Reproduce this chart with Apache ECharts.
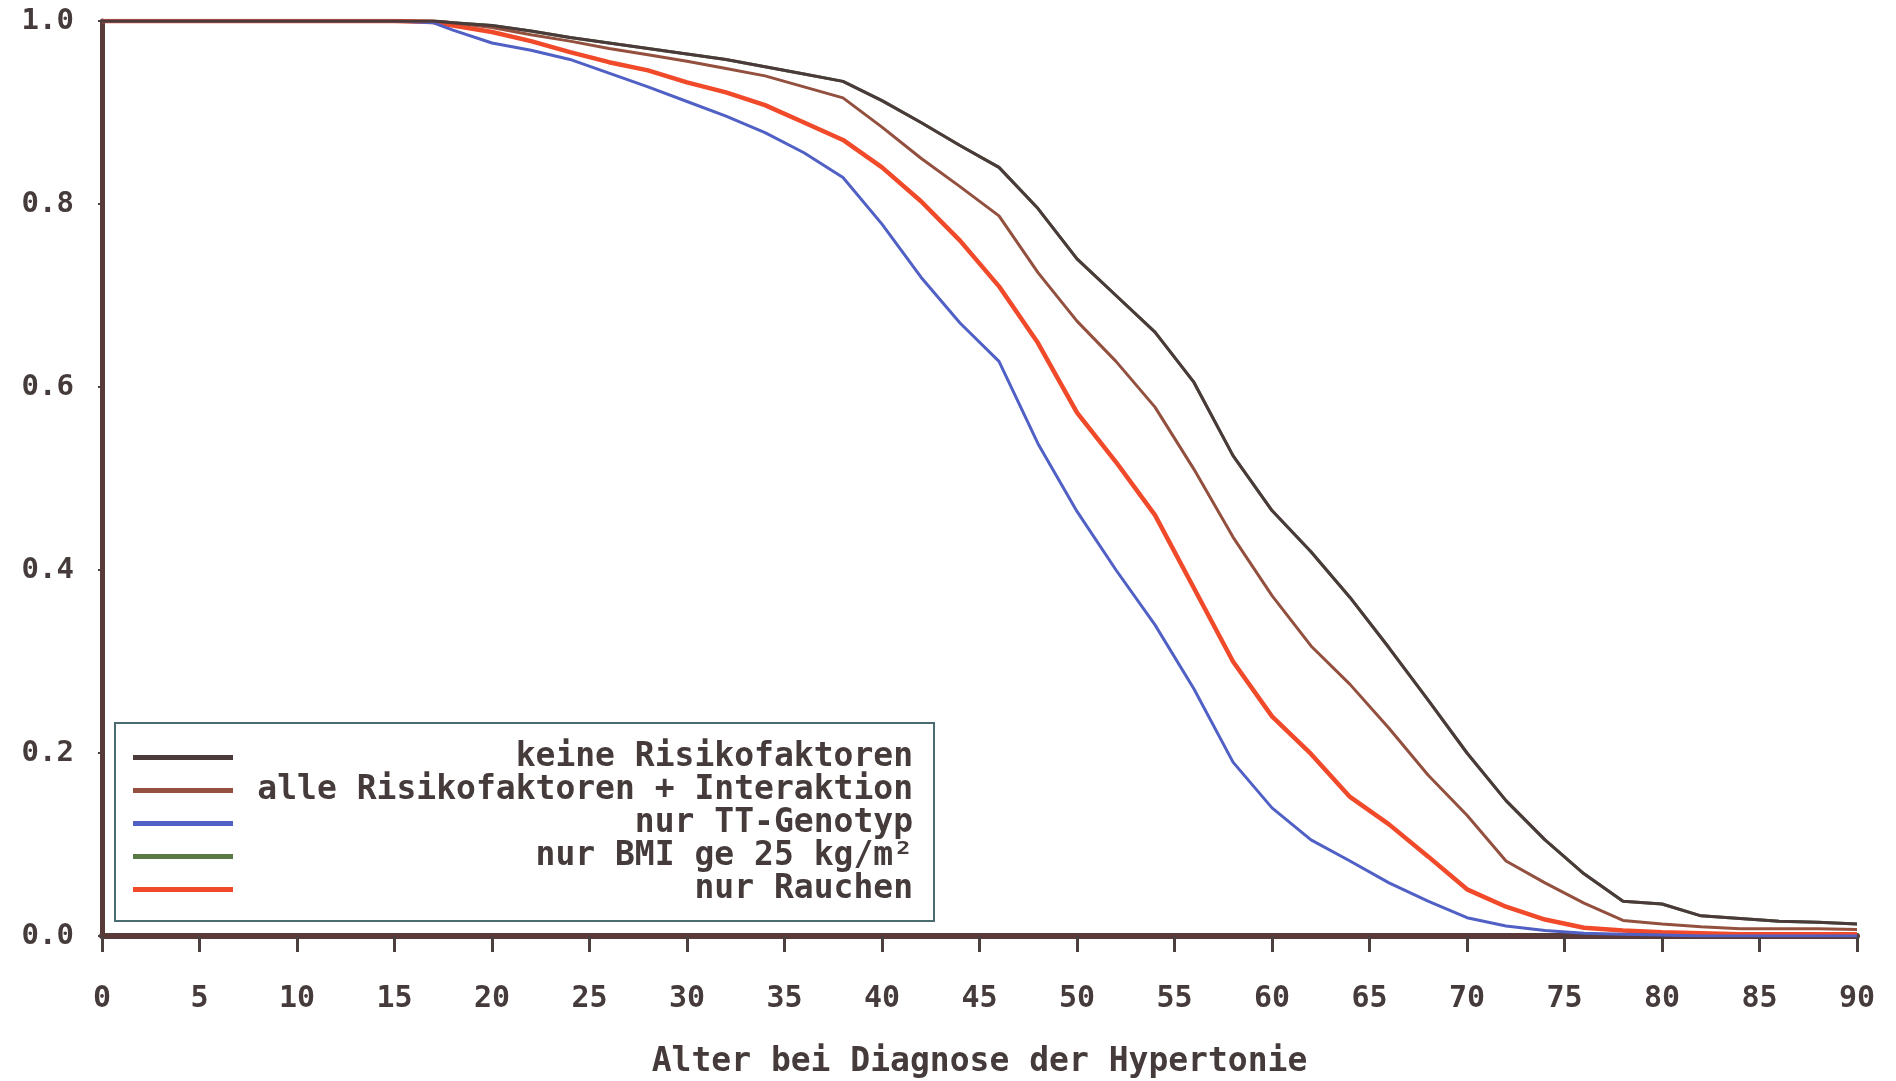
<!DOCTYPE html>
<html>
<head>
<meta charset="utf-8">
<script src="https://cdn.jsdelivr.net/npm/echarts@6.0.0/dist/echarts.min.js"></script>
<style>
  html, body { margin: 0; padding: 0; background: #fff; }
  .chart-content { width: 1896px; height: 1081px; }
</style>
</head>
<body>
<div class="chart-content" id="chart"></div>
<script>
// Alter (Jahre)
var ages = [0, 15, 17, 18, 20, 22, 24, 26, 28, 30, 32, 34, 36, 38, 40, 42, 44, 46, 48, 50,
  52, 54, 56, 58, 60, 62, 64, 66, 68, 70, 72, 74, 76, 78, 80, 82, 84, 86, 88, 90]

var keineVals = [1, 1, 1, 0.998, 0.995, 0.989, 0.982, 0.976, 0.970, 0.964,
  0.958, 0.950, 0.942, 0.934, 0.913, 0.889, 0.864, 0.840, 0.795, 0.740,
  0.700, 0.660, 0.605, 0.525, 0.465, 0.420, 0.370, 0.315, 0.258, 0.200,
  0.148, 0.105, 0.068, 0.038, 0.035, 0.022, 0.019, 0.016, 0.015, 0.013]

var alleVals = [1, 1, 1, 0.998, 0.993, 0.985, 0.978, 0.970, 0.963, 0.956,
  0.948, 0.940, 0.928, 0.916, 0.884, 0.850, 0.819, 0.787, 0.725, 0.672,
  0.628, 0.578, 0.510, 0.436, 0.372, 0.317, 0.275, 0.227, 0.176, 0.132,
  0.082, 0.058, 0.036, 0.017, 0.013, 0.010, 0.008, 0.008, 0.008, 0.007]

var ttVals = [1, 1, 0.998, 0.990, 0.976, 0.968, 0.958, 0.943, 0.928, 0.912,
  0.896, 0.878, 0.856, 0.829, 0.778, 0.720, 0.670, 0.628, 0.538, 0.464,
  0.400, 0.340, 0.270, 0.190, 0.140, 0.105, 0.082, 0.058, 0.038, 0.020,
  0.011, 0.006, 0.003, 0.002, 0.001, 0, 0, 0, 0, 0]

// BMI-Kurve liegt unter "keine Risikofaktoren"
var bmiVals = keineVals

var rauchenVals = [1, 1, 0.999, 0.995, 0.988, 0.978, 0.966, 0.955, 0.946, 0.933,
  0.922, 0.908, 0.889, 0.870, 0.840, 0.803, 0.760, 0.710, 0.648, 0.572,
  0.518, 0.460, 0.380, 0.300, 0.240, 0.199, 0.152, 0.122, 0.087, 0.051,
  0.032, 0.018, 0.009, 0.006, 0.004, 0.003, 0.002, 0.002, 0.002, 0.002]

var seriesNames = ['keine Risikofaktoren', 'alle Risikofaktoren + Interaktion',
  'nur TT-Genotyp', 'nur BMI ge 25 kg/m²', 'nur Rauchen']

var font = 'DejaVu Sans Mono'
var textColor = '#453b3b'

function pairs (vals) {
  return ages.map(function (a, i) { return [a, vals[i]] })
}

function lineSeries (name, vals, color, width, z) {
  return {
    name: name,
    type: 'line',
    data: pairs(vals),
    showSymbol: false,
    symbol: 'none',
    color: color,
    z: z,
    lineStyle: { color: color, width: width },
    itemStyle: { color: color },
    emphasis: { disabled: true }
  }
}

var myChart = echarts.init(document.getElementById('chart'))

var chartOption = {
  animation: false,
  backgroundColor: '#fff',
  grid: { left: 102, right: 39, top: 21, bottom: 145, outerBoundsMode: 'none' },
  legend: {
    orient: 'vertical',
    left: 115,
    top: 723,
    padding: [18, 21, 15, 18],
    itemGap: 0,
    itemWidth: 100,
    itemHeight: 5,
    icon: 'rect',
    selectedMode: false,
    borderColor: '#4a6c70',
    borderWidth: 2,
    data: seriesNames,
    formatter: function (name) { return '{t|' + name + '}' },
    textStyle: {
      lineHeight: 31,
      rich: {
        t: {
          width: 675,
          align: 'right',
          fontFamily: font,
          fontWeight: 'bold',
          fontSize: 33,
          lineHeight: 31,
          color: textColor
        }
      }
    }
  },
  xAxis: {
    type: 'value',
    min: 0,
    max: 90,
    interval: 5,
    name: 'Alter bei Diagnose der Hypertonie',
    nameLocation: 'middle',
    nameGap: 110,
    nameTextStyle: { fontFamily: font, fontWeight: 'bold', fontSize: 33, color: textColor },
    splitLine: { show: false },
    axisLine: { lineStyle: { color: '#5a3a38', width: 6 } },
    axisTick: { length: 16, lineStyle: { color: '#4a4040', width: 3 } },
    axisLabel: {
      margin: 48,
      fontFamily: font,
      fontWeight: 'bold',
      fontSize: 30,
      color: textColor
    }
  },
  yAxis: {
    type: 'value',
    min: 0,
    max: 1,
    interval: 0.2,
    splitLine: { show: false },
    axisLine: { show: true, lineStyle: { color: '#5a3a38', width: 5 } },
    axisTick: { show: true, length: 4, lineStyle: { color: '#4a4040', width: 2 } },
    axisLabel: {
      margin: 28,
      fontFamily: font,
      fontWeight: 'bold',
      fontSize: 29,
      color: textColor,
      formatter: function (v) { return v.toFixed(1) }
    }
  },
  series: [
    lineSeries(seriesNames[0], keineVals, '#4b3a3a', 3, 6),
    lineSeries(seriesNames[1], alleVals, '#94503e', 3, 5),
    lineSeries(seriesNames[2], ttVals, '#5060c4', 3, 4),
    lineSeries(seriesNames[3], bmiVals, '#5a7a45', 3, 2),
    lineSeries(seriesNames[4], rauchenVals, '#f04a2a', 4.5, 3)
  ]
}

myChart.setOption(chartOption)
</script>
</body>
</html>
